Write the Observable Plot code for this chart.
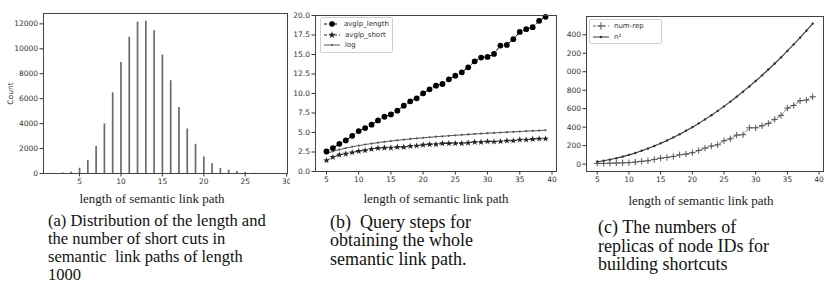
<!DOCTYPE html>
<html>
<head>
<meta charset="utf-8">
<script src="https://cdn.jsdelivr.net/npm/d3@7"></script>
<script src="https://cdn.jsdelivr.net/npm/@observablehq/plot@0.6"></script>
<style>
  html, body { margin: 0; padding: 0; background: #fff; }
  #root { position: relative; width: 830px; height: 300px; overflow: hidden; background: #fff; }
  .panel { position: absolute; }
  .panel svg { overflow: hidden; }
  .xl { position: absolute; font-family: "Liberation Serif", serif; font-size: 13px; color: #222; white-space: nowrap; transform: translateX(-50%); }
  .cap { position: absolute; font-family: "Liberation Serif", serif; color: #111; white-space: nowrap; }
  .leg { position: absolute; border: 1px solid #d0d0d0; border-radius: 2px; background: rgba(255,255,255,0.85);
         font-family: "DejaVu Sans", sans-serif; font-size: 7px; color: #333; padding: 1px 3px; }
  .leg div { height: 10.5px; line-height: 10.5px; display: flex; align-items: center; }
  .leg svg { margin-right: 5px; }
</style>
</head>
<body>
<div id="root"></div>
<script>
// ---- Panel (a): histogram of path lengths ----
const histLength = [3, 4, 5, 6, 7, 8, 9, 10, 11, 12, 13, 14, 15, 16, 17, 18, 19, 20, 21, 22, 23, 24, 25, 26];
const histCount  = [50, 110, 420, 1050, 2170, 3970, 6470, 8910, 10930, 12140, 12220, 11440, 9500, 7440, 5290, 3570, 2340, 1320, 780, 400, 270, 160, 80, 25];
const xTicksA = [5, 10, 15, 20, 25, 30];
const yTicksA = [0, 2000, 4000, 6000, 8000, 10000, 12000];

// ---- Panel (b) and (c): shared x ----
const pathLen = [5, 6, 7, 8, 9, 10, 11, 12, 13, 14, 15, 16, 17, 18, 19, 20, 21, 22, 23, 24, 25, 26, 27, 28, 29, 30, 31, 32, 33, 34, 35, 36, 37, 38, 39];
const xTicksBC = [5, 10, 15, 20, 25, 30, 35, 40];

// ---- Panel (b): query steps ----
const avglpLength = [2.57, 3.0, 3.55, 3.98, 4.58, 5.18, 5.57, 6.0, 6.55, 7.02, 7.32, 7.8, 8.44, 9.0, 9.38, 10.02, 10.54, 11.0, 11.22, 11.82, 12.29, 12.72, 13.36, 14.13, 14.6, 14.69, 15.08, 16.15, 16.23, 16.96, 17.9, 18.25, 18.5, 19.32, 19.83];
const avglpShort  = [1.41, 1.84, 2.14, 2.27, 2.44, 2.61, 2.7, 2.87, 3.0, 3.04, 3.04, 3.13, 3.13, 3.25, 3.3, 3.42, 3.47, 3.47, 3.6, 3.6, 3.6, 3.6, 3.68, 3.77, 3.77, 3.85, 3.81, 3.85, 3.94, 3.94, 4.07, 4.07, 4.15, 4.2, 4.2];
const logSteps    = [2.32, 2.58, 2.81, 3.0, 3.17, 3.32, 3.46, 3.58, 3.7, 3.81, 3.91, 4.0, 4.09, 4.17, 4.25, 4.32, 4.39, 4.46, 4.52, 4.58, 4.64, 4.7, 4.75, 4.81, 4.86, 4.91, 4.95, 5.0, 5.04, 5.09, 5.13, 5.17, 5.21, 5.25, 5.29];
const yTicksB = [0, 2.5, 5, 7.5, 10, 12.5, 15, 17.5, 20];
const seriesB = ["avglp_length", "avglp_short", "log"];

// ---- Panel (c): replicas ----
const numRep   = [8, 8, 10, 12, 14, 16, 22, 30, 36, 50, 65, 72, 83, 101, 108, 123, 148, 173, 195, 209, 253, 274, 314, 318, 393, 393, 415, 440, 484, 527, 606, 635, 686, 693, 729];
const nSquared = [25, 36, 49, 64, 81, 100, 121, 144, 169, 196, 225, 256, 289, 324, 361, 400, 441, 484, 529, 576, 625, 676, 729, 784, 841, 900, 961, 1024, 1089, 1156, 1225, 1296, 1369, 1444, 1521];
const yTicksC = [0, 200, 400, 600, 800, 1000, 1200, 1400];
const seriesC = ["num-rep", "n\u00b2"];

const xLabel = "length of semantic link path";
const captions = [
  ["(a) Distribution of the length and", "the number of short cuts in", "semantic  link paths of length", "1000"],
  ["(b)  Query steps for", "obtaining the whole", "semantic link path."],
  ["(c) The numbers of", "replicas of node IDs for", "building shortcuts"]
];

const root = document.getElementById("root");
const FONT = "DejaVu Sans, sans-serif";
const axisStyle = {fontFamily: FONT, fontSize: "7.5px", color: "#333", background: "transparent"};

function place(el, left, top) {
  const d = document.createElement("div");
  d.className = "panel";
  d.style.left = left + "px";
  d.style.top = top + "px";
  d.appendChild(el);
  root.appendChild(d);
  return d;
}

// Panel (a)
const histData = histLength.map((x, i) => ({x, count: histCount[i]}));
const pa = Plot.plot({
  width: 290, height: 190,
  marginLeft: 43, marginRight: 3, marginTop: 13, marginBottom: 17,
  style: axisStyle,
  x: {domain: [0.65, 30.1], ticks: xTicksA, tickSize: 3.5, tickPadding: 2, label: null},
  y: {domain: [0, 12830], ticks: yTicksA, tickSize: 3.5, tickPadding: 2, tickFormat: d3.format("d"),
      label: "Count", labelAnchor: "center", labelOffset: 36, labelArrow: "none"},
  marks: [
    Plot.ruleX(histData, {x: "x", y1: 0, y2: "count", stroke: "#6a6a6a", strokeWidth: 1.7}),
    Plot.frame({stroke: "#444", strokeWidth: 1})
  ]
});
place(pa, 0, 0);

// Panel (b)
const dataB = pathLen.flatMap((x, i) => [
  {x, y: avglpLength[i], s: seriesB[0]},
  {x, y: avglpShort[i], s: seriesB[1]},
  {x, y: logSteps[i], s: seriesB[2]}
]);
const pb = Plot.plot({
  width: 285, height: 185,
  marginLeft: 35, marginRight: 9, marginTop: 15, marginBottom: 14,
  style: axisStyle,
  x: {domain: [3.3, 40.7], ticks: xTicksBC, tickSize: 3.5, tickPadding: 2, label: null},
  y: {domain: [0, 20], ticks: yTicksB, tickSize: 3.5, tickPadding: 2, tickFormat: d3.format(".1f"), label: null},
  marks: [
    Plot.line(dataB.filter(d => d.s === seriesB[2]), {x: "x", y: "y", stroke: "#555", strokeWidth: 1}),
    Plot.dot(dataB.filter(d => d.s === seriesB[2]), {x: "x", y: "y", r: 1.1, fill: "#555"}),
    Plot.line(dataB.filter(d => d.s === seriesB[1]), {x: "x", y: "y", stroke: "#222", strokeWidth: 1, strokeDasharray: "3,2"}),
    Plot.dot(dataB.filter(d => d.s === seriesB[1]), {x: "x", y: "y", symbol: "star", r: 2.1, fill: "#222"}),
    Plot.line(dataB.filter(d => d.s === seriesB[0]), {x: "x", y: "y", stroke: "#000", strokeWidth: 1, strokeDasharray: "3,2"}),
    Plot.dot(dataB.filter(d => d.s === seriesB[0]), {x: "x", y: "y", r: 2.9, fill: "#000"}),
    Plot.frame({stroke: "#444", strokeWidth: 1})
  ]
});
place(pb, 280, 0);

// Panel (c)
const dataC = pathLen.flatMap((x, i) => [
  {x, y: numRep[i], s: seriesC[0]},
  {x, y: nSquared[i], s: seriesC[1]}
]);
const pc = Plot.plot({
  width: 264, height: 185,
  marginLeft: 20, marginRight: 7, marginTop: 16, marginBottom: 14,
  style: axisStyle,
  x: {domain: [3.3, 40.7], ticks: xTicksBC, tickSize: 3.5, tickPadding: 2, label: null},
  y: {domain: [-80, 1598], ticks: yTicksC, tickSize: 3.5, tickPadding: 2, tickFormat: d3.format("d"), label: null},
  marks: [
    Plot.line(dataC.filter(d => d.s === seriesC[0]), {x: "x", y: "y", stroke: "#666", strokeWidth: 1, strokeDasharray: "3,2"}),
    Plot.dot(dataC.filter(d => d.s === seriesC[0]), {x: "x", y: "y", symbol: "plus", r: 2.2, stroke: "#555", strokeWidth: 1}),
    Plot.line(dataC.filter(d => d.s === seriesC[1]), {x: "x", y: "y", stroke: "#333", strokeWidth: 1.1}),
    Plot.dot(dataC.filter(d => d.s === seriesC[1]), {x: "x", y: "y", r: 1.2, fill: "#333"}),
    Plot.frame({stroke: "#444", strokeWidth: 1})
  ]
});
place(pc, 566, 0);

// Legends
function legend(left, top, width, entries) {
  const box = document.createElement("div");
  box.className = "leg";
  box.style.left = left + "px";
  box.style.top = top + "px";
  box.style.width = width + "px";
  for (const [label, sample] of entries) {
    const row = document.createElement("div");
    row.innerHTML = `<svg width="16" height="8">${sample}</svg><span>${label}</span>`;
    box.appendChild(row);
  }
  root.appendChild(box);
}
const star = d3.symbol(d3.symbolStar, 16)();
const plus = d3.symbol(d3.symbolPlus, 20)();
legend(320, 17, 65, [
  [seriesB[0], `<line x1="0" x2="16" y1="4" y2="4" stroke="#000" stroke-dasharray="3,2"/><circle cx="8" cy="4" r="2.8" fill="#000"/>`],
  [seriesB[1], `<line x1="0" x2="16" y1="4" y2="4" stroke="#222" stroke-dasharray="3,2"/><path transform="translate(8,4)" d="${star}" fill="#222"/>`],
  [seriesB[2], `<line x1="0" x2="16" y1="4" y2="4" stroke="#555"/><circle cx="8" cy="4" r="1.1" fill="#555"/>`]
]);
legend(589, 19, 65, [
  [" " + seriesC[0], `<line x1="0" x2="16" y1="4" y2="4" stroke="#666" stroke-dasharray="3,2"/><path transform="translate(8,4)" d="${plus}" fill="none" stroke="#555"/>`],
  [" " + seriesC[1], `<line x1="0" x2="16" y1="4" y2="4" stroke="#333"/><circle cx="8" cy="4" r="1.2" fill="#333"/>`]
]);

// X labels
[[152, 191], [436, 191], [701, 193]].forEach(([cx, top]) => {
  const d = document.createElement("div");
  d.className = "xl";
  d.style.left = cx + "px";
  d.style.top = top + "px";
  d.textContent = xLabel;
  root.appendChild(d);
});

// Captions: [left, top, font size, line height]
[[48, 212, 16.5, 18], [330, 213, 18, 18.3], [598, 218, 18, 18.6]].forEach(([left, top, fs, lh], i) => {
  const d = document.createElement("div");
  d.className = "cap";
  d.style.left = left + "px";
  d.style.top = top + "px";
  d.style.fontSize = fs + "px";
  d.style.lineHeight = lh + "px";
  d.innerHTML = captions[i].map(t => t.replace(/ {2}/g, " &nbsp;")).join("<br>");
  root.appendChild(d);
});
</script>
</body>
</html>
